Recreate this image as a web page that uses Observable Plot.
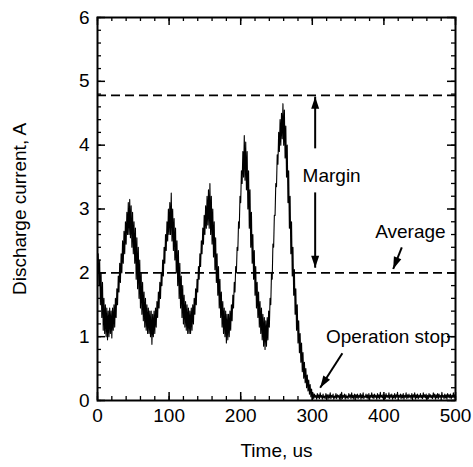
<!DOCTYPE html>
<html><head><meta charset="utf-8">
<script src="https://cdn.jsdelivr.net/npm/d3@7"></script>
<script src="https://cdn.jsdelivr.net/npm/@observablehq/plot@0.6"></script>
<style>
body{margin:0;background:#fff;}
</style>
</head><body><div id="chart"></div>
<script>
const current = [
  2.0,2.3, 1.8,2.2, 1.5,2.0, 1.3,1.85, 1.1,1.6, 1.05,1.5, 1.0,1.45, 0.95,1.4, 1.0,1.45, 1.05,1.4,
  0.98,1.45, 1.1,1.5, 1.15,1.6, 1.3,1.75, 1.5,1.95, 1.7,2.15, 1.85,2.3, 2.0,2.5, 2.15,2.65, 2.3,2.8,
  2.45,2.95, 2.6,3.1, 2.6,3.15, 2.55,3.05, 2.4,2.95, 2.3,2.8, 2.15,2.7, 1.9,2.55, 1.75,2.4, 1.6,2.2,
  1.45,2.0, 1.35,1.85, 1.25,1.7, 1.15,1.6, 1.1,1.5, 1.05,1.45, 1.05,1.4, 1.0,1.4, 0.88,1.35, 1.0,1.4,
  1.05,1.45, 1.15,1.55, 1.3,1.7, 1.45,1.85, 1.6,2.0, 1.8,2.2, 1.95,2.4, 2.15,2.6, 2.35,2.8, 2.5,3.0,
  2.6,3.1, 2.6,3.25, 2.5,3.0, 2.35,2.85, 2.2,2.7, 2.0,2.5, 1.8,2.35, 1.6,2.15, 1.45,1.95, 1.3,1.8,
  1.2,1.65, 1.15,1.55, 1.1,1.5, 1.05,1.45, 1.05,1.4, 1.05,1.45, 1.1,1.5, 1.2,1.6, 1.35,1.75, 1.5,1.9,
  1.7,2.1, 1.9,2.3, 2.1,2.5, 2.3,2.7, 2.45,2.9, 2.6,3.05, 2.7,3.2, 2.75,3.3, 2.7,3.4, 2.6,3.2,
  2.45,3.0, 2.25,2.8, 2.05,2.55, 1.85,2.3, 1.65,2.1, 1.45,1.9, 1.3,1.7, 1.15,1.55, 1.05,1.45, 1.0,1.4,
  0.9,1.35, 0.95,1.35, 1.0,1.4, 1.1,1.5, 1.25,1.65, 1.45,1.85, 1.7,2.1, 2.0,2.4, 2.35,2.8, 2.7,3.2,
  3.1,3.6, 3.4,3.9, 3.5,4.15, 3.45,4.05, 3.3,3.9, 3.0,3.6, 2.7,3.3, 2.4,2.95, 2.15,2.6, 1.9,2.35,
  1.65,2.1, 1.45,1.85, 1.3,1.7, 1.15,1.55, 1.05,1.45, 0.95,1.35, 0.85,1.3, 0.8,1.25, 0.85,1.3, 0.95,1.4,
  1.15,1.6, 1.5,2.0, 1.9,2.45, 2.4,2.9, 2.9,3.4, 3.35,3.85, 3.7,4.2, 3.9,4.4, 4.0,4.5, 4.1,4.65,
  4.0,4.55, 3.8,4.3, 3.5,4.0, 3.1,3.6, 2.7,3.2, 2.3,2.8, 1.95,2.4, 1.65,2.05, 1.35,1.75, 1.1,1.5,
  0.9,1.25, 0.75,1.05, 0.6,0.9, 0.45,0.75, 0.35,0.6, 0.28,0.5, 0.2,0.4, 0.15,0.32, 0.1,0.25, 0.06,0.18,
  0.04,0.12,
  0.03,0.10,0.05,0.08,0.02,0.11,0.04,0.09,0.03,0.12,
  0.05,0.08,0.02,0.10,0.04,0.07,0.03,0.11,0.05,0.09,
  0.02,0.09,0.04,0.12,0.03,0.08,0.05,0.10,0.02,0.07,
  0.04,0.11,0.03,0.09,0.05,0.08,0.02,0.10,0.04,0.13,
  0.03,0.08,0.05,0.10,0.02,0.09,0.04,0.07,0.03,0.11,
  0.05,0.09,0.03,0.12,0.04,0.08,0.02,0.10,0.05,0.09,
  0.04,0.10,0.03,0.08,0.05,0.11,0.02,0.09,0.04,0.12,
  0.03,0.07,0.05,0.10,0.04,0.09,0.02,0.11,0.03,0.08,
  0.05,0.12,0.04,0.09,0.03,0.10,0.05,0.08,0.02,0.11,
  0.04,0.09,0.03,0.13,0.05,0.08,0.04,0.10,0.02,0.09,
  0.03,0.11,0.05,0.08,0.04,0.12,0.03,0.09,0.05,0.10,
  0.02,0.08,0.04,0.11,0.03,0.09,0.05,0.13,0.04,0.08,
  0.05,0.10,0.03,0.09,0.04,0.11,0.02,0.08,0.05,0.12,
  0.03,0.09,0.04,0.10,0.05,0.08,0.03,0.11,0.04,0.09,
  0.05,0.12,0.02,0.09,0.04,0.10,0.03,0.08,0.05,0.11,
  0.04,0.08,0.03,0.12,0.05,0.09,0.04,0.10,0.02,0.08,
  0.03,0.11,0.05,0.09,0.04,0.08,0.03,0.12,0.05,0.10,
  0.02,0.09,0.04,0.11,0.03,0.10,0.05,0.08,0.04,0.13,
  0.05,0.08,0.03,0.10,0.04,0.09,0.02,0.11,0.05,0.09,
  0.04,0.10,0.03,0.08,0.05,0.12,0.04,0.09,0.03
];
const timeUs = current.map((_, i) => i); // 1 us sampling grid

// Reference levels (A)
const levels = [2.0, 4.78];

// Axis ticks
const xTicks = [0, 100, 200, 300, 400, 500];
const xMinorTicks = d3.range(0, 501, 20);
const yTicks = [0, 1, 2, 3, 4, 5, 6];
const yMinorTicks = d3.range(0, 6.01, 0.2);

// Annotations
const labelTexts = ["Margin", "Average", "Operation stop"];
const labelX = [327, 437, 406];
const labelY = [3.52, 2.64, 0.99];

// Margin arrow (two halves around the text)
const marginArrowX = 304;
const marginUp = {y1: 3.95, y2: 4.76};
const marginDown = {y1: 3.26, y2: 2.08};
// Average arrow
const avgArrow = {x1: 425, y1: 2.40, x2: 413, y2: 2.06};
// Operation stop arrow
const stopArrow = {x1: 342, y1: 0.74, x2: 311, y2: 0.20};

const data = timeUs.map((t, i) => ({t, v: current[i]}));

// filled arrowhead symbol pointing along the screen direction (dx, dy); tip at the anchor point
function headSymbol(dx, dy) {
  const n = Math.hypot(dx, dy), ux = dx / n, uy = dy / n, L = 12, w = 4;
  return {
    draw(ctx) {
      ctx.moveTo(0, 0);
      ctx.lineTo(-ux * L - uy * w, -uy * L + ux * w);
      ctx.lineTo(-ux * L + uy * w, -uy * L - ux * w);
      ctx.closePath();
    }
  };
}

const W = 473, H = 467, mL = 97, mR = 18, mT = 17, mB = 67;
const fw = W - mL - mR, fh = H - mT - mB;

const chart = Plot.plot({
  width: W, height: H,
  marginLeft: mL, marginRight: mR, marginTop: mT, marginBottom: mB,
  style: {fontFamily: "'Liberation Sans', Arial, sans-serif", fontSize: "19px", color: "black", background: "white"},
  x: {domain: [0, 500]},
  y: {domain: [0, 6]},
  marks: [
    // ticks (inside, mirrored)
    Plot.tickX(xMinorTicks, {x: d => d, insetTop: fh - 4, strokeWidth: 1.3}),
    Plot.tickX(xMinorTicks, {x: d => d, insetBottom: fh - 4, strokeWidth: 1.3}),
    Plot.tickX(xTicks, {x: d => d, insetTop: fh - 8, strokeWidth: 1.5}),
    Plot.tickX(xTicks, {x: d => d, insetBottom: fh - 8, strokeWidth: 1.5}),
    Plot.tickY(yMinorTicks, {y: d => d, insetRight: fw - 4, strokeWidth: 1.3}),
    Plot.tickY(yMinorTicks, {y: d => d, insetLeft: fw - 4, strokeWidth: 1.3}),
    Plot.tickY(yTicks, {y: d => d, insetRight: fw - 8, strokeWidth: 1.5}),
    Plot.tickY(yTicks, {y: d => d, insetLeft: fw - 8, strokeWidth: 1.5}),
    Plot.axisX({ticks: xTicks, tickSize: 0, tickPadding: 8, fontSize: 19, label: null, tickFormat: d => String(d)}),
    Plot.axisY({ticks: yTicks, tickSize: 0, tickPadding: 8, fontSize: 19, label: null, tickFormat: d => String(d)}),
    // reference dashed lines
    Plot.ruleY(levels, {y: d => d, strokeDasharray: "9,5", strokeWidth: 1.8}),
    // signal
    Plot.line(data, {x: "t", y: "v", stroke: "black", strokeWidth: 1.1}),
    // annotations
    Plot.link([marginUp, marginDown], {x1: () => marginArrowX, x2: () => marginArrowX, y1: "y1", y2: "y2", strokeWidth: 2}),
    Plot.dot([marginUp], {x: () => marginArrowX, y: "y2", symbol: headSymbol(0, -1), fill: "black", stroke: "none"}),
    Plot.dot([marginDown], {x: () => marginArrowX, y: "y2", symbol: headSymbol(0, 1), fill: "black", stroke: "none"}),
    Plot.link([avgArrow, stopArrow], {x1: "x1", y1: "y1", x2: "x2", y2: "y2", strokeWidth: 2}),
    Plot.dot([avgArrow], {x: "x2", y: "y2", symbol: headSymbol(-8.5, 21.5), fill: "black", stroke: "none"}),
    Plot.dot([stopArrow], {x: "x2", y: "y2", symbol: headSymbol(-22, 34), fill: "black", stroke: "none"}),
    Plot.text(labelTexts, {x: (d, i) => labelX[i], y: (d, i) => labelY[i], text: d => d, fontSize: 19, fill: "black"}),
    // axis titles
    Plot.text(["Time, us"], {frameAnchor: "bottom", dy: 50, lineAnchor: "middle", textAnchor: "middle", text: d => d, fontSize: 19}),
    Plot.text(["Discharge current, A"], {frameAnchor: "left", dx: -78, rotate: -90, textAnchor: "middle", lineAnchor: "middle", text: d => d, fontSize: 19}),
    Plot.frame({strokeWidth: 2})
  ]
});
document.getElementById("chart").appendChild(chart);
</script>
</body></html>
